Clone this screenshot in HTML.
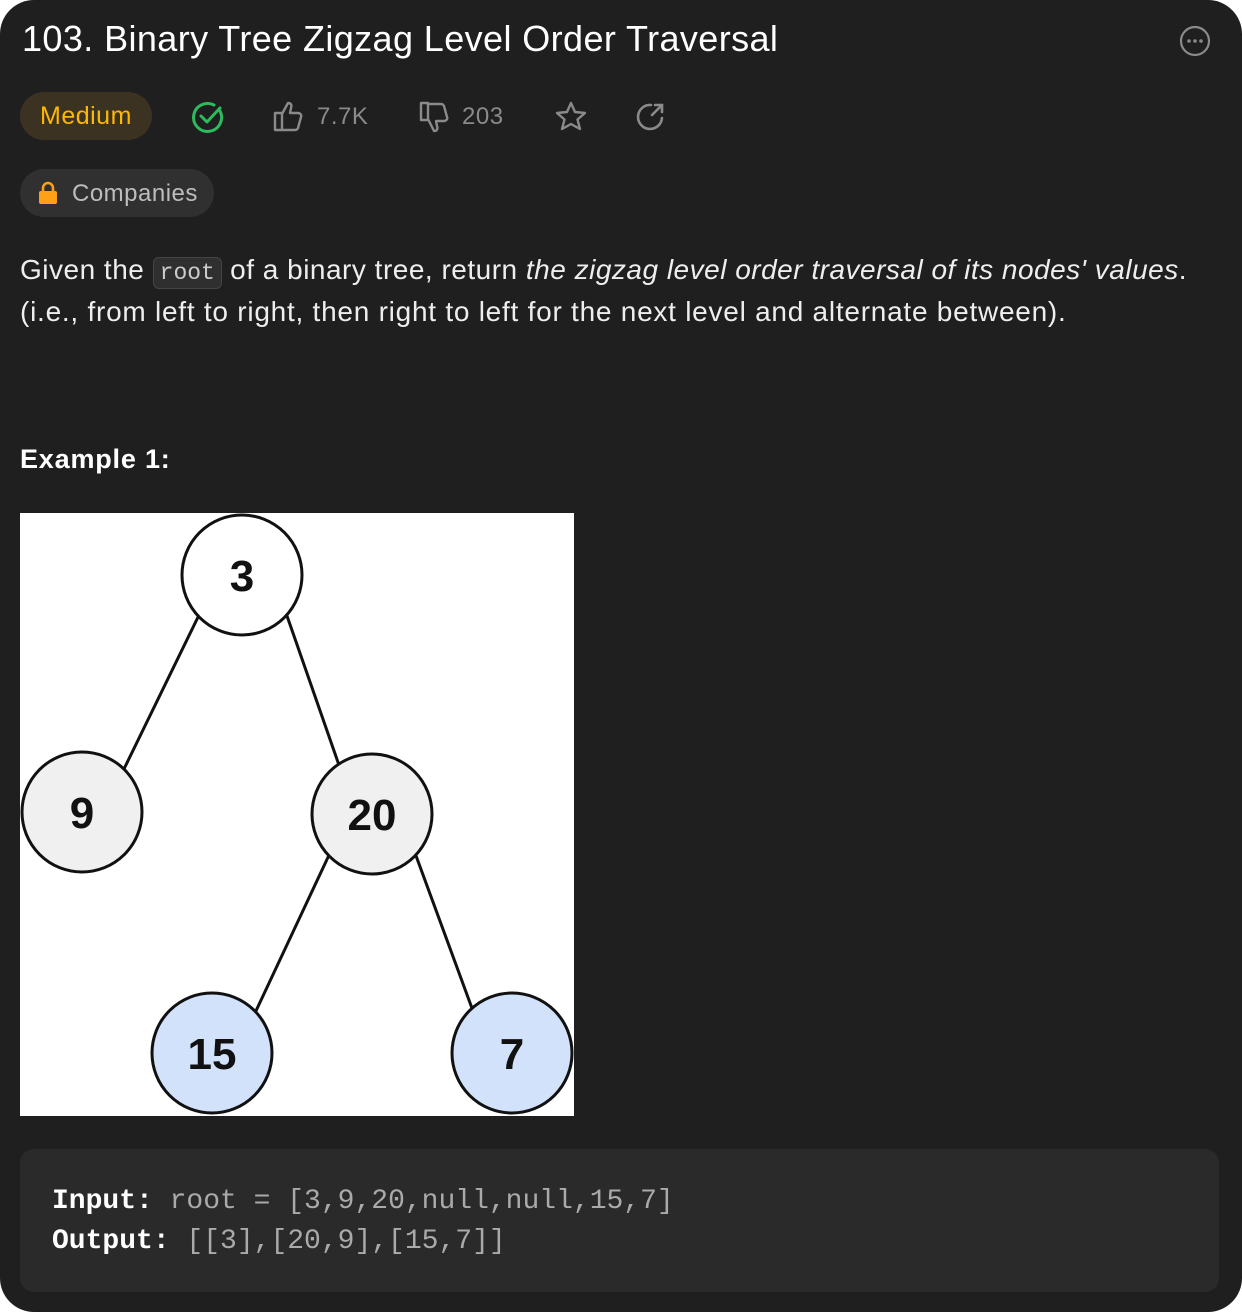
<!DOCTYPE html>
<html><head><style>
html,body{margin:0;padding:0;background:#fff;}
#p{position:relative;width:1242px;height:1312px;background:#1f1f1f;border-radius:34px;overflow:hidden;font-family:"Liberation Sans",sans-serif;color:#eee;}
.a{position:absolute;white-space:nowrap;}
.mono{font-family:"Liberation Mono",monospace;}
</style></head><body><div id="p">
<div class="a" style="left:22px;top:18px;font-size:36px;letter-spacing:0.4px;color:#fff;">103. Binary Tree Zigzag Level Order Traversal</div>
<svg class="a" style="left:1178px;top:24px" width="34" height="34"><circle cx="17" cy="17" r="14" fill="none" stroke="#8a8a8a" stroke-width="2.2"/><circle cx="11" cy="17" r="1.8" fill="#8a8a8a"/><circle cx="17" cy="17" r="1.8" fill="#8a8a8a"/><circle cx="23" cy="17" r="1.8" fill="#8a8a8a"/></svg>
<div class="a" style="left:20px;top:92px;width:132px;height:48px;border-radius:24px;background:#3b3222;"></div>
<div class="a" style="left:40px;top:102px;font-size:25px;letter-spacing:0.5px;color:#ffb800;">Medium</div>
<svg class="a" style="left:190px;top:99px" width="36" height="36"><path d="M30 12 A14 14 0 1 1 24 6" fill="none" stroke="#2cbb5d" stroke-width="3" stroke-linecap="round"/><path d="M11 17 L17 23 L30 9" fill="none" stroke="#2cbb5d" stroke-width="3" stroke-linecap="round" stroke-linejoin="round"/></svg>
<svg class="a" style="left:272px;top:100px" width="34" height="32"><path d="M3 13 h7 v17 h-7z M10 14 L16 3 c3 0 4 2 3 5 l-1 5 h8 c2 0 4 2 3 4 l-3 11 c-1 2 -2 2 -4 2 H10" fill="none" stroke="#8a8a8a" stroke-width="2.4" stroke-linejoin="round"/></svg>
<div class="a" style="left:317px;top:103px;font-size:24px;letter-spacing:0.5px;color:#8a8a8a;">7.7K</div>
<svg class="a" style="left:418px;top:100px" width="34" height="34"><path d="M3 3 h7 v17 h-7z M10 19 L16 31 c3 0 4 -2 3 -5 l-1 -5 h8 c2 0 4 -2 3 -4 l-3 -11 c-1 -2 -2 -2 -4 -2 H10" fill="none" stroke="#8a8a8a" stroke-width="2.4" stroke-linejoin="round"/></svg>
<div class="a" style="left:462px;top:103px;font-size:24px;letter-spacing:0.5px;color:#8a8a8a;">203</div>
<svg class="a" style="left:554px;top:100px" width="34" height="34"><path d="M17 3 L21 12 L31 13 L23.5 19.5 L26 29 L17 24 L8 29 L10.5 19.5 L3 13 L13 12Z" fill="none" stroke="#8a8a8a" stroke-width="2.4" stroke-linejoin="round"/></svg>
<svg class="a" style="left:634px;top:100px" width="34" height="34"><path d="M28 18 A12 12 0 1 1 17 5" fill="none" stroke="#8a8a8a" stroke-width="2.6" stroke-linecap="round"/><path d="M18 15 L28 5 M21 5 h7 v7" fill="none" stroke="#8a8a8a" stroke-width="2.6" stroke-linecap="round"/></svg>
<div class="a" style="left:20px;top:169px;width:194px;height:48px;border-radius:24px;background:#303030;"></div>
<svg class="a" style="left:37px;top:181px" width="22" height="24"><path d="M6 11 V7 a5 5 0 0 1 10 0 V11" fill="none" stroke="#ffa116" stroke-width="2.5"/><rect x="2" y="10" width="18" height="13" rx="2" fill="#ffa116"/></svg>
<div class="a" style="left:72px;top:180px;font-size:24px;letter-spacing:0.5px;color:#bdbdbd;">Companies</div>
<div class="a" style="left:20px;top:254px;font-size:28px;letter-spacing:0.5px;color:#eee;">Given the <span class="mono" style="font-size:23px;letter-spacing:0;background:#2f2f2f;border:1px solid #444;border-radius:6px;padding:2px 6px;color:#ccc;">root</span> of a binary tree, return <i>the zigzag level order traversal of its nodes' values</i>.</div>
<div class="a" style="left:20px;top:296px;font-size:28px;letter-spacing:0.75px;color:#eee;">(i.e., from left to right, then right to left for the next level and alternate between).</div>
<div class="a" style="left:20px;top:444px;font-size:27px;letter-spacing:0.8px;font-weight:bold;color:#fff;">Example 1:</div>
<svg class="a" style="left:20px;top:513px" width="554" height="603">
<rect width="554" height="603" fill="#fff"/>
<g stroke="#111" stroke-width="3">
<line x1="180" y1="100" x2="103" y2="258"/><line x1="266" y1="100" x2="320" y2="255"/>
<line x1="310" y1="340" x2="235" y2="500"/><line x1="395" y1="340" x2="453" y2="498"/>
<circle cx="222" cy="62" r="60" fill="#fff"/>
<circle cx="62" cy="299" r="60" fill="#f0f0f0"/>
<circle cx="352" cy="301" r="60" fill="#f0f0f0"/>
<circle cx="192" cy="540" r="60" fill="#d2e2fb"/>
<circle cx="492" cy="540" r="60" fill="#d2e2fb"/>
</g>
<g font-family="Liberation Sans,sans-serif" font-weight="bold" font-size="44" text-anchor="middle" fill="#111">
<text x="222" y="78">3</text><text x="62" y="315">9</text><text x="352" y="317">20</text><text x="192" y="556">15</text><text x="492" y="556">7</text>
</g></svg>
<div class="a" style="left:20px;top:1149px;width:1199px;height:143px;border-radius:14px;background:#2a2a2a;"></div>
<div class="a mono" style="left:52px;top:1182px;font-size:28px;color:#aaa;line-height:40px;"><b style="color:#fff">Input:</b> root = [3,9,20,null,null,15,7]<br><b style="color:#fff">Output:</b> [[3],[20,9],[15,7]]</div>
</div></body></html>
